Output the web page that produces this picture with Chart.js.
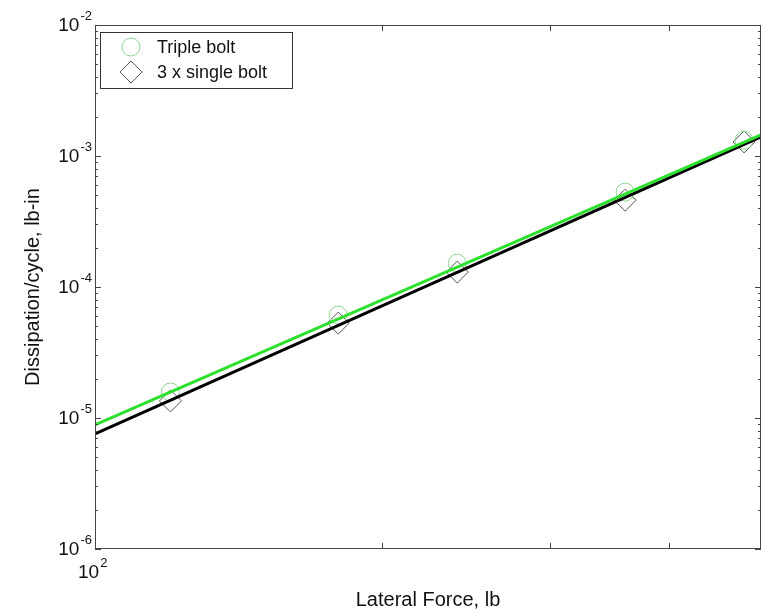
<!DOCTYPE html>
<html>
<head>
<meta charset="utf-8">
<script src="https://cdn.jsdelivr.net/npm/chart.js@4"></script>
<style>
  html, body { margin: 0; padding: 0; background: #fff; }
  #wrap { width: 764px; height: 613px; }
</style>
</head>
<body>
<div id="wrap"><canvas id="dissChart" width="764" height="613"></canvas></div>
<script>
// lateral force, lb
var forces = [120, 180, 240, 360, 480];
// dissipation per cycle, lb-in
var tripleBolt = [1.58e-5, 6.1e-5, 1.52e-4, 5.3e-4, 1.32e-3];
var singleBoltX3 = [1.35e-5, 5.3e-5, 1.30e-4, 4.6e-4, 1.28e-3];
// fitted power-law lines, read at both ends of the axis
var fitX = [100, 500];
var tripleFit = [8.85e-6, 1.45e-3];
var singleFit = [7.55e-6, 1.40e-3];
// axis tick labels (exponents of 10)
var yTickExp = [-2, -3, -4, -5, -6];
var xTickExp = [2];
var xMinorTicks = [200, 300, 400];

function pts(xs, ys) {
  return xs.map(function (x, i) { return { x: x, y: ys[i] }; });
}

var FONT = '"Liberation Sans", Arial, sans-serif';

// frame, inward ticks, power-of-ten labels, axis titles and legend, MATLAB style
var matlabAxes = {
  id: 'matlabAxes',
  afterDraw: function (chart) {
    var ctx = chart.ctx;
    var a = chart.chartArea;
    var xs = chart.scales.x, ys = chart.scales.y;
    ctx.save();

    // box
    ctx.strokeStyle = '#444';
    ctx.lineWidth = 1;
    ctx.strokeRect(a.left + 0.5, a.top + 0.5, a.right - a.left - 1, a.bottom - a.top - 1);

    // y ticks: major at decades, minor at 2..9
    ctx.beginPath();
    for (var e = -6; e <= -2; e++) {
      for (var m = 1; m <= 9; m++) {
        var v = m * Math.pow(10, e);
        if (v > 1e-2 * 1.0001) break;
        var py = Math.round(ys.getPixelForValue(v)) + 0.5;
        var len = m === 1 ? 6 : 3;
        ctx.moveTo(a.left, py); ctx.lineTo(a.left + len, py);
        ctx.moveTo(a.right, py); ctx.lineTo(a.right - len, py);
      }
    }
    xMinorTicks.forEach(function (v) {
      var px = Math.round(xs.getPixelForValue(v)) + 0.5;
      ctx.moveTo(px, a.bottom); ctx.lineTo(px, a.bottom - 6);
      ctx.moveTo(px, a.top); ctx.lineTo(px, a.top + 6);
    });
    ctx.stroke();

    // tick labels
    ctx.fillStyle = '#111';
    function pow10(e, x, y, alignRight) {
      var base = '10', sup = String(e);
      ctx.font = '19px ' + FONT;
      var wb = ctx.measureText(base).width;
      ctx.font = '13px ' + FONT;
      var ws = ctx.measureText(sup).width;
      var x0 = alignRight ? x - wb - ws : x;
      ctx.textBaseline = 'middle';
      ctx.textAlign = 'left';
      ctx.font = '19px ' + FONT;
      ctx.fillText(base, x0, y);
      ctx.font = '13px ' + FONT;
      ctx.fillText(sup, x0 + wb + 1, y - 10);
    }
    yTickExp.forEach(function (e) {
      pow10(e, a.left - 4, ys.getPixelForValue(Math.pow(10, e)) + 1, true);
    });
    xTickExp.forEach(function (e) {
      pow10(e, xs.getPixelForValue(Math.pow(10, e)) - 17, a.bottom + 24, false);
    });

    // axis titles
    ctx.font = '20px ' + FONT;
    ctx.textAlign = 'center';
    ctx.textBaseline = 'middle';
    ctx.fillText('Lateral Force, lb', (a.left + a.right) / 2, 600);
    ctx.save();
    ctx.translate(33, (a.top + a.bottom) / 2);
    ctx.rotate(-Math.PI / 2);
    ctx.fillText('Dissipation/cycle, lb-in', 0, 0);
    ctx.restore();

    // legend box
    var lx = 100, ly = 32, lw = 192, lh = 56;
    ctx.fillStyle = '#fff';
    ctx.fillRect(lx, ly, lw, lh);
    ctx.strokeStyle = '#333';
    ctx.strokeRect(lx + 0.5, ly + 0.5, lw, lh);
    var items = [
      { label: 'Triple bolt', ds: chart.data.datasets[2] },
      { label: '3 x single bolt', ds: chart.data.datasets[3] }
    ];
    items.forEach(function (it, i) {
      var cy = ly + 15 + i * 25;
      ctx.fillStyle = 'rgba(0,0,0,0)';
      ctx.strokeStyle = it.ds.borderColor;
      ctx.lineWidth = it.ds.borderWidth;
      Chart.helpers.drawPoint(ctx, {
        pointStyle: it.ds.pointStyle,
        radius: it.ds.pointRadius,
        borderWidth: it.ds.borderWidth,
        rotation: 0
      }, 131, cy);
      ctx.fillStyle = '#111';
      ctx.font = '18px ' + FONT;
      ctx.textAlign = 'left';
      ctx.textBaseline = 'middle';
      ctx.fillText(it.label, 157, cy + 1);
    });

    ctx.restore();
  }
};

try {
  const ctx = document.getElementById('dissChart');
  new Chart(ctx, {
    type: 'scatter',
    data: {
      datasets: [
        {
          label: 'Triple bolt fit',
          data: pts(fitX, tripleFit),
          showLine: true,
          borderColor: '#2ee02e',
          borderWidth: 3,
          pointRadius: 0
        },
        {
          label: '3 x single bolt fit',
          data: pts(fitX, singleFit),
          showLine: true,
          borderColor: '#000',
          borderWidth: 3,
          pointRadius: 0
        },
        {
          label: 'Triple bolt',
          data: pts(forces, tripleBolt),
          pointStyle: 'circle',
          pointRadius: 9,
          borderWidth: 1,
          borderColor: '#8fd48f',
          backgroundColor: 'rgba(0,0,0,0)'
        },
        {
          label: '3 x single bolt',
          data: pts(forces, singleBoltX3),
          pointStyle: 'rectRot',
          pointRadius: 11,
          borderWidth: 1,
          borderColor: '#555',
          backgroundColor: 'rgba(0,0,0,0)'
        }
      ]
    },
    options: {
      responsive: false,
      animation: false,
      layout: { autoPadding: false, padding: { left: 95, right: 3, top: 25, bottom: 64 } },
      plugins: {
        legend: { display: false },
        tooltip: { enabled: false }
      },
      scales: {
        x: {
          type: 'logarithmic',
          min: 100,
          max: 500,
          grid: { display: false, drawTicks: false },
          border: { display: false },
          ticks: { display: false },
          afterFit: function (s) { s.height = 0; s.paddingLeft = 0; s.paddingRight = 0; }
        },
        y: {
          type: 'logarithmic',
          min: 1e-6,
          max: 1e-2,
          grid: { display: false, drawTicks: false },
          border: { display: false },
          ticks: { display: false },
          afterFit: function (s) { s.width = 0; s.paddingTop = 0; s.paddingBottom = 0; }
        }
      }
    },
    plugins: [matlabAxes]
  });
}
catch (error) {
  console.error("An error occurred while initializing the chart:", error);
}
</script>
</body>
</html>
